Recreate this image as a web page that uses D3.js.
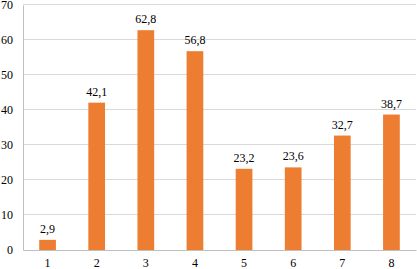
<!DOCTYPE html>
<html>
<head>
<meta charset="utf-8">
<script src="https://cdn.jsdelivr.net/npm/d3@7"></script>
<style>
  body { margin: 0; background: #fff; }
</style>
</head>
<body>
<svg id="chart"></svg>
<script>
const categories = ['1', '2', '3', '4', '5', '6', '7', '8'];
const values = [2.9, 42.1, 62.8, 56.8, 23.2, 23.6, 32.7, 38.7];
const yTicks = [0, 10, 20, 30, 40, 50, 60, 70];

const W = 417, H = 269;
const margin = { top: 5, right: 1, bottom: 19, left: 23 };
const width = W - margin.left - margin.right;
const height = H - margin.top - margin.bottom;
const FONT = "'Liberation Serif', 'Times New Roman', serif";

const svg = d3.select('#chart').attr('width', W).attr('height', H);
const g = svg.append('g').attr('transform', `translate(${margin.left},${margin.top})`);

const x = d3.scaleBand().domain(categories).range([0, width]).paddingInner(0.66).paddingOuter(0.33);
const y = d3.scaleLinear().domain([0, 70]).range([height, 0]);

// gridlines
g.selectAll('.grid')
  .data(yTicks.filter(d => d > 0))
  .enter().append('line')
  .attr('x1', 0).attr('x2', width)
  .attr('y1', d => Math.round(y(d)) - 0.5).attr('y2', d => Math.round(y(d)) - 0.5)
  .attr('stroke', '#d9d9d9');

// y axis
const yAxis = g.append('g').call(d3.axisLeft(y).tickValues(yTicks).tickSize(0).tickPadding(10));
yAxis.select('.domain').attr('stroke', '#bfbfbf');

// bars
g.selectAll('.bar')
  .data(values)
  .enter().append('rect')
  .attr('x', (d, i) => x(categories[i]))
  .attr('y', d => y(d))
  .attr('width', x.bandwidth())
  .attr('height', d => height - y(d))
  .attr('fill', '#ED7D31');

// value labels
const fmt = v => v.toFixed(1).replace('.', ',');
g.selectAll('.lbl')
  .data(values)
  .enter().append('text')
  .attr('x', (d, i) => x(categories[i]) + x.bandwidth() / 2)
  .attr('y', d => y(d) - 7)
  .attr('text-anchor', 'middle')
  .text(fmt);

// x axis
const xAxis = g.append('g')
  .attr('transform', `translate(0,${height})`)
  .call(d3.axisBottom(x).tickSize(0).tickPadding(8));
xAxis.select('.domain').attr('stroke', '#bfbfbf');
yAxis.raise();

svg.selectAll('g').attr('font-family', null).attr('font-size', null);
svg.selectAll('text')
  .style('font-family', FONT)
  .style('font-size', '12px')
  .attr('fill', '#000');
</script>
</body>
</html>
